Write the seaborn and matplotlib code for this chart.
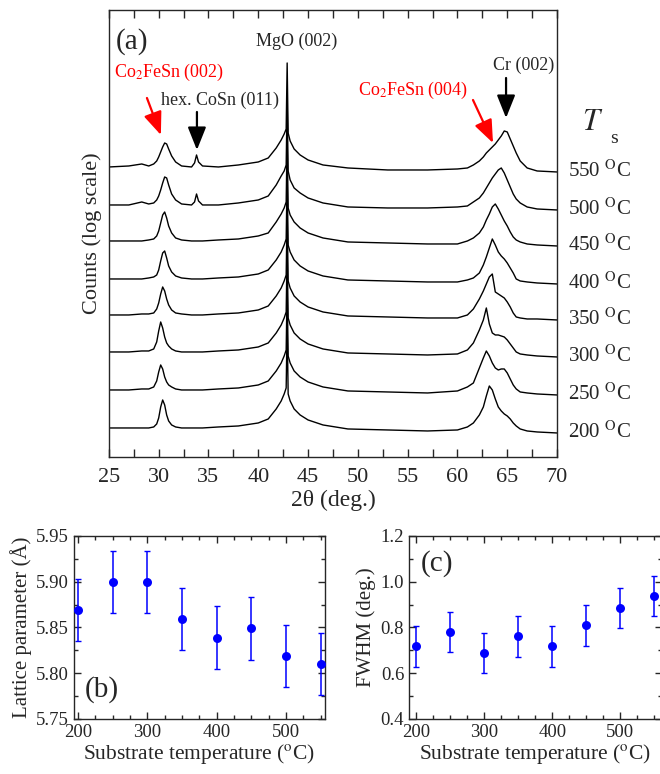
import numpy as np
import pandas as pd
import seaborn as sns
import matplotlib
matplotlib.use('Agg')
import matplotlib.pyplot as plt
from matplotlib.ticker import MultipleLocator, NullLocator
import matplotlib.transforms as mtransforms

sns.set_style('ticks')
plt.rcParams['font.family'] = ['Liberation Serif', 'DejaVu Serif']
plt.rcParams['mathtext.fontset'] = 'stix'
plt.rcParams['axes.linewidth'] = 1.0

# ---- panel (a): XRD patterns, log counts (arb. units) ----
two_theta = [25, 27, 28.3, 29, 29.5, 29.8, 30.0, 30.2, 30.4, 30.6,
             30.8, 31.0, 31.3, 31.7, 32.3, 33.3, 33.6, 33.8, 34.0, 34.4,
             36, 38, 40, 41, 41.8, 42.3, 42.6, 42.8, 42.9, 43.0,
             43.2, 43.6, 44.2, 45, 46.5, 49, 53, 57, 60, 61,
             61.6, 62.2, 62.6, 62.9, 63.2, 63.5, 63.8, 64.1, 64.4, 64.7,
             65.0, 65.3, 65.6, 65.9, 66.3, 67, 68, 70]

temps = [200, 250, 300, 350, 400, 450, 500, 550]
offsets = [0, 38, 76, 113, 149, 187, 223, 261]

xrd_200 = [0, 0, 0, 0, 1, 4, 10, 21, 28, 23,
           13, 7, 3, 1, 0, 0, 0, 0, 0, 0,
           1, 2, 5, 9, 19, 27, 34, 40, 104, 34,
           27, 19, 13, 8, 3, -1, -2, -3, -2, 1,
           5, 13, 21, 32, 42, 38, 29, 21, 17, 14,
           12, 9, 5, 2, -1, -3, -4, -5]
xrd_250 = [0, 0, 1, 1, 3, 9, 18, 25, 21, 13,
           8, 5, 3, 1, 0, 0, 0, 0, 0, 0,
           1, 2, 5, 9, 19, 27, 34, 40, 104, 34,
           27, 19, 13, 8, 3, -1, -2, -3, -1, 3,
           7, 22, 32, 39, 34, 27, 22, 20, 21, 21,
           17, 11, 5, 1, -2, -3, -4, -5]
xrd_300 = [0, 0, 1, 1, 3, 10, 21, 30, 24, 15,
           9, 6, 3, 1, 0, 0, 0, 0, 0, 0,
           1, 2, 5, 9, 19, 27, 34, 40, 104, 34,
           27, 19, 13, 8, 3, -1, -2, -3, -2, 2,
           9, 22, 32, 44, 28, 19, 17, 17, 16, 15,
           12, 8, 4, 0, -2, -3, -4, -5]
xrd_350 = [0, 0, 1, 1, 2, 6, 12, 21, 28, 24,
           16, 10, 5, 2, 1, 0, 0, 0, 0, 0,
           1, 2, 5, 9, 19, 27, 34, 40, 104, 34,
           27, 19, 13, 8, 3, -1, -2, -3, -3, 0,
           6, 16, 24, 31, 38, 41, 23, 21, 19, 17,
           13, 8, 2, -2, -3, -4, -4, -5]
xrd_400 = [0, 0, 0, 1, 2, 4, 9, 18, 26, 28,
           21, 13, 7, 3, 1, 0, 0, 0, 0, 0,
           1, 2, 5, 9, 19, 27, 34, 40, 104, 34,
           27, 19, 13, 8, 3, -1, -2, -3, -3, -1,
           1, 6, 14, 22, 31, 40, 34, 27, 23, 20,
           16, 11, 6, 0, -2, -3, -4, -5]
xrd_450 = [0, 0, 0, 1, 2, 5, 10, 18, 26, 29,
           23, 15, 8, 3, 1, 0, 0, 0, 0, 0,
           1, 2, 5, 8, 19, 27, 33, 39, 104, 33,
           26, 19, 13, 8, 3, -1, -2, -3, -3, 0,
           3, 8, 14, 21, 27, 34, 37, 32, 26, 20,
           15, 9, 4, 1, -1, -3, -4, -5]
xrd_500 = [0, 0, 3, 1, 2, 5, 9, 15, 22, 28,
           27, 20, 11, 5, 1, 0, 3, 11, 4, 0,
           0, 2, 5, 9, 20, 29, 34, 40, 104, 34,
           25, 17, 12, 7, 2, -2, -3, -3, -2, -1,
           3, 7, 12, 17, 22, 27, 31, 35, 37, 32,
           25, 18, 11, 6, 2, -2, -4, -5]
xrd_550 = [0, 1, 3, 1, 3, 6, 10, 15, 20, 24,
           23, 18, 11, 5, 1, 0, 4, 12, 5, 1,
           0, 2, 5, 9, 19, 27, 33, 38, 104, 34,
           26, 18, 12, 7, 2, -1, -3, -3, -2, -1,
           2, 6, 10, 14, 17, 20, 23, 27, 31, 36,
           35, 28, 21, 14, 6, -1, -4, -5]
patterns = [xrd_200, xrd_250, xrd_300, xrd_350, xrd_400, xrd_450, xrd_500, xrd_550]

# ---- panels (b), (c) ----
sub_temp = [200, 250, 300, 350, 400, 450, 500, 550]
lattice = [5.869, 5.900, 5.900, 5.859, 5.839, 5.849, 5.819, 5.810]
lattice_err = [0.034, 0.034, 0.034, 0.034, 0.034, 0.034, 0.034, 0.034]
fwhm = [0.717, 0.780, 0.688, 0.761, 0.717, 0.809, 0.884, 0.938]
fwhm_err = [0.088, 0.088, 0.088, 0.088, 0.088, 0.088, 0.088, 0.088]

fig = plt.figure(figsize=(6.6, 7.74), dpi=100)
ax_a = fig.add_axes([0.165, 0.4096, 0.679, 0.5775])
ax_b = fig.add_axes([0.112, 0.0711, 0.380, 0.2364])
ax_c = fig.add_axes([0.6197, 0.0711, 0.3833, 0.2364])

for t, off, vals in zip(temps, offsets, patterns):
    d = pd.DataFrame({'2theta': two_theta, 'logI': np.array(vals) + off})
    sns.lineplot(data=d, x='2theta', y='logI', color='black', lw=1.0,
                 estimator=None, sort=False, ax=ax_a)

ax_a.set_xlim(25, 70)
ax_a.set_ylim(-29, 418)
ax_a.xaxis.set_major_locator(MultipleLocator(5))
ax_a.xaxis.set_minor_locator(MultipleLocator(2.5))
ax_a.yaxis.set_major_locator(NullLocator())
ax_a.tick_params(axis='x', which='both', direction='in', top=True, length=6,
                 width=1.0, labelsize=16, pad=8)
ax_a.set_xlabel('2θ (deg.)', fontsize=17, labelpad=2)
ax_a.set_ylabel('Counts (log scale)', fontsize=16, labelpad=5)

trans = mtransforms.blended_transform_factory(ax_a.transAxes, ax_a.transData)
for t, off in zip(temps, offsets):
    ax_a.text(1.025, off - 4, f'{t} $^{{\\rm O}}$C', transform=trans,
              fontsize=15, va='center', ha='left')
ax_a.text(1.055, 305, r'$T$', transform=trans, fontsize=22, va='center',
          ha='left')
ax_a.text(1.118, 289, 's', transform=trans, fontsize=14, va='center',
          ha='left')

ax_a.text(27.3, 386, '(a)', fontsize=21, ha='center', va='center')
ax_a.text(43.85, 387, 'MgO (002)', fontsize=13, ha='center', va='center')
ax_a.text(31.0, 356, 'Co$_2$FeSn (002)', fontsize=13, color='red',
          ha='center', va='center')
ax_a.text(36.15, 328, 'hex. CoSn (011)', fontsize=13, ha='center', va='center')
ax_a.text(66.6, 363, 'Cr (002)', fontsize=13, ha='center', va='center')
ax_a.text(55.5, 338, 'Co$_2$FeSn (004)', fontsize=13, color='red',
          ha='center', va='center')

arrow_kw = dict(arrowstyle='-|>,head_length=1.0,head_width=0.4', lw=1.6,
                shrinkA=0, shrinkB=0, mutation_scale=14)
ax_a.annotate('', xy=(30.22, 293), xytext=(28.82, 330),
              arrowprops=dict(color='red', **arrow_kw))
ax_a.annotate('', xy=(33.84, 278), xytext=(33.84, 316),
              arrowprops=dict(color='black', **arrow_kw))
ax_a.annotate('', xy=(64.88, 310), xytext=(64.88, 350),
              arrowprops=dict(color='black', **arrow_kw))
ax_a.annotate('', xy=(63.57, 285), xytext=(61.56, 328),
              arrowprops=dict(color='red', **arrow_kw))

# ---- bottom panels ----
def small_panel(ax, y, yerr, ylim, ymaj, ymin, ylabel, tag, tagpos):
    ax.errorbar(sub_temp, y, yerr=yerr, fmt='none', ecolor='blue',
                elinewidth=1.1, capsize=2.5, capthick=1.0)
    sns.scatterplot(x=sub_temp, y=y, color='blue', s=42, edgecolor='blue',
                    linewidth=0, zorder=3, ax=ax)
    ax.set_ylim(*ylim)
    ax.xaxis.set_major_locator(MultipleLocator(100))
    ax.xaxis.set_minor_locator(MultipleLocator(25))
    ax.yaxis.set_major_locator(MultipleLocator(ymaj))
    ax.yaxis.set_minor_locator(MultipleLocator(ymin))
    ax.tick_params(which='both', direction='in', top=True, right=True,
                   width=1.0, labelsize=13.5)
    ax.tick_params(which='major', length=5)
    ax.tick_params(which='minor', length=3)
    ax.set_xlabel('Substrate temperature ($^{\\rm o}$C)', fontsize=15.5,
                  labelpad=1)
    ax.set_ylabel(ylabel, fontsize=15, labelpad=3)
    ax.text(tagpos[0], tagpos[1], tag, transform=ax.transAxes, fontsize=21,
            ha='center', va='center')

small_panel(ax_b, lattice, lattice_err, (5.75, 5.95), 0.05, 0.025,
            'Lattice parameter (Å)', '(b)', (0.11, 0.16))
ax_b.set_xlim(194, 556)
ax_b.yaxis.set_major_formatter(matplotlib.ticker.FormatStrFormatter('%.2f'))

small_panel(ax_c, fwhm, fwhm_err, (0.4, 1.2), 0.2, 0.1,
            'FWHM (deg.)', '(c)', (0.11, 0.85))
ax_c.set_xlim(190, 561)

fig.savefig('out.png', dpi=100)
